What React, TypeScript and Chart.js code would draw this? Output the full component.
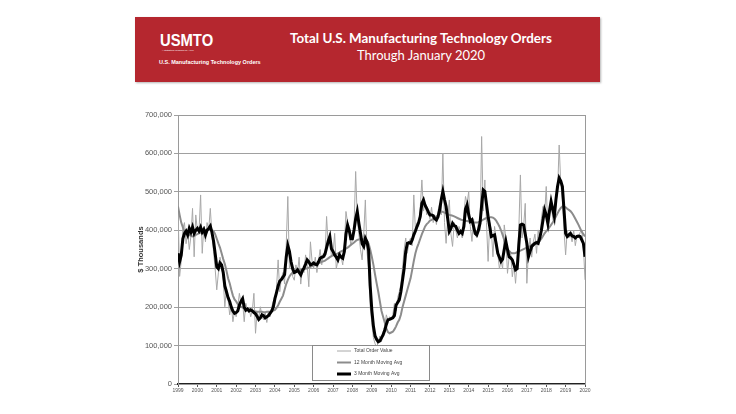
import React, { useEffect, useRef } from "react";
import { Chart, registerables } from "chart.js";

Chart.register(...registerables);

// Monthly series, Jan 1999 .. Jan 2020, values in $ thousands (axis units / 1000)
const START_YEAR = 1999;
const UNIT = 1000;

const yearLabels = [
  "1999", "2000", "2001", "2002", "2003", "2004", "2005", "2006", "2007", "2008", "2009",
  "2010", "2011", "2012", "2013", "2014", "2015", "2016", "2017", "2018", "2019", "2020",
];

const yTicks = [0, 100000, 200000, 300000, 400000, 500000, 600000, 700000];

const seriesNames = ["Total Order Value", "12 Month Moving Avg", "3 Month Moving Avg"];

const totalOrderValue = [
  460, 280, 320, 405, 420, 365, 395, 350, 385, 457, 331, 440,
  400, 395, 492, 340, 410, 370, 420, 400, 457, 390, 345, 300,
  245, 289, 330, 310, 270, 201, 250, 220, 180, 205, 162, 190,
  175, 200, 236, 210, 215, 162, 210, 190, 200, 175, 190, 236,
  132, 190, 170, 201, 175, 167, 185, 160, 190, 175, 200, 215,
  210, 250, 323, 240, 275, 290, 260, 360, 488, 300, 330, 280,
  270, 310, 290, 330, 260, 300, 290, 336, 310, 253, 370, 320,
  300, 330, 290, 320, 350, 310, 340, 330, 436, 360, 392, 330,
  340, 392, 300, 320, 345, 330, 310, 360, 449, 420, 400, 360,
  375, 410, 553, 430, 390, 350, 323, 390, 479, 345, 300, 200,
  160, 120, 105, 95, 110, 125, 110, 135, 150, 180, 165, 175,
  170, 180, 210, 190, 225, 240, 260, 300, 350, 380, 340, 370,
  380, 360, 492, 400, 420, 410, 460, 531, 450, 470, 440, 450,
  430, 460, 420, 440, 415, 450, 470, 440, 601, 420, 366, 430,
  479, 390, 358, 420, 400, 380, 410, 395, 380, 440, 488, 470,
  501, 410, 371, 430, 390, 380, 420, 400, 644, 450, 531, 420,
  319, 420, 401, 331, 410, 380, 340, 300, 320, 300, 414, 380,
  288, 330, 340, 279, 310, 262, 320, 400, 544, 380, 410, 470,
  262, 345, 380, 330, 370, 390, 340, 401, 370, 430, 462, 440,
  514, 400, 440, 480, 430, 420, 470, 500, 622, 520, 480, 400,
  336, 400, 380, 390, 370, 400, 360, 385, 380, 395, 401, 360,
  271,
];

const movingAvg12 = [
  462, 440, 420, 408, 395, 392, 390, 388, 385, 384, 385, 388,
  390, 392, 394, 396, 398, 400, 401, 402, 401, 400, 398, 390,
  378, 366, 355, 340, 325, 312, 295, 275, 262, 245, 230, 220,
  215, 208, 203, 201, 199, 197, 195, 194, 193, 192, 191, 190,
  189, 188, 188, 188, 188, 187, 187, 188, 188, 188, 189, 191,
  193, 198, 205, 214, 222, 230, 245, 260, 271, 280, 286, 290,
  292, 294, 295, 296, 297, 298, 299, 300, 301, 303, 305, 307,
  309, 310, 312, 314, 316, 318, 319, 321, 324, 327, 330, 333,
  335, 336, 338, 340, 342, 345, 347, 350, 352, 355, 358, 362,
  365, 368, 372, 375, 376, 377, 377, 376, 375, 372, 366, 350,
  331, 310, 285, 262, 240, 215, 190, 175, 160, 145, 135, 132,
  134, 136, 142, 150, 160, 167, 180, 200, 215, 230, 245, 260,
  275, 297, 320, 340, 355, 366, 378, 390, 400, 410, 416, 420,
  425, 427, 430, 432, 435, 440, 445, 449, 448, 446, 444, 442,
  440, 439, 438, 436, 434, 432, 430, 428, 427, 426, 425, 424,
  423, 422, 421, 420, 420, 420, 421, 423, 425, 428, 430, 432,
  433, 434, 434, 433, 430, 425, 418, 410, 400, 388, 375, 362,
  352, 346, 342, 340, 340, 341, 343, 345, 347, 349, 351, 353,
  355, 357, 359, 362, 365, 368, 370, 371, 373, 378, 385, 392,
  398, 402, 408, 414, 420, 428, 436, 444, 452, 458, 462, 462,
  460, 456, 453, 450, 445, 438, 430, 422, 414, 405, 396, 390,
  384,
];

const movingAvg3 = [
  340, 318, 335, 378, 392, 398, 388, 405, 395, 408, 392, 400,
  405, 398, 408, 395, 402, 388, 400, 405, 411, 395, 372, 340,
  305, 300, 315, 310, 290, 255, 240, 225, 215, 200, 190, 184,
  186, 190, 205, 215, 222, 200, 192, 195, 190, 193, 190, 186,
  183, 176, 168, 172, 180, 178, 172, 175, 178, 184, 190, 200,
  222, 238, 255, 268, 272, 278, 285, 330, 360, 345, 318, 300,
  290, 292, 297, 290, 284, 295, 302, 312, 323, 318, 310, 312,
  315, 312, 310, 318, 327, 330, 331, 338, 355, 372, 384, 352,
  345, 336, 330, 323, 336, 330, 327, 345, 390, 414, 400, 378,
  378, 401, 430, 449, 418, 392, 365, 358, 379, 370, 349, 255,
  193, 150, 125, 116, 110, 112, 120, 128, 140, 155, 167, 168,
  170, 172, 178, 205, 212, 219, 240, 270, 300, 345, 366, 368,
  366, 375, 388, 398, 410, 420, 436, 470, 479, 465, 457, 448,
  440, 440, 438, 430, 427, 435, 453, 480, 501, 480, 462, 430,
  397, 405, 418, 412, 410, 400, 392, 397, 392, 410, 455, 466,
  440, 423, 427, 410, 392, 388, 400, 418, 465, 505, 501, 468,
  436, 410, 384, 386, 388, 365, 340, 330, 319, 325, 350, 371,
  350, 331, 328, 323, 310, 297, 300, 360, 414, 416, 414, 390,
  366, 331, 345, 358, 362, 366, 368, 366, 380, 400, 427, 453,
  440, 418, 450, 475, 455, 436, 480, 514, 536, 528, 514, 453,
  392, 384, 388, 392, 385, 384, 380, 384, 385, 384, 375, 366,
  331,
];

const toPoints = (arr: number[]) =>
  arr.map((v, i) => ({ x: START_YEAR + i / 12, y: v * UNIT }));

const FONT = "'Liberation Sans', Arial, sans-serif";

const framePlugin = {
  id: "plotFrame",
  beforeDatasetsDraw(chart: any) {
    const { ctx, chartArea } = chart;
    ctx.save();
    ctx.strokeStyle = "#9a9a9a";
    ctx.lineWidth = 1;
    ctx.strokeRect(
      Math.round(chartArea.left) + 0.5,
      Math.round(chartArea.top) + 0.5,
      Math.round(chartArea.right - chartArea.left),
      Math.round(chartArea.bottom - chartArea.top)
    );
    ctx.restore();
  },
};

const insetLegendPlugin = {
  id: "insetLegend",
  afterDatasetsDraw(chart: any) {
    const { ctx, chartArea } = chart;
    const x = Math.round(chartArea.left + 134);
    const y = Math.round(chartArea.bottom - 39);
    const w = 117;
    const h = 35;
    ctx.save();
    ctx.fillStyle = "#ffffff";
    ctx.fillRect(x, y, w, h);
    ctx.strokeStyle = "#8a8a8a";
    ctx.lineWidth = 1;
    ctx.strokeRect(x + 0.5, y + 0.5, w, h);
    ctx.font = `5px ${FONT}`;
    ctx.textBaseline = "middle";
    ctx.fillStyle = "#444";
    seriesNames.forEach((name, i) => {
      const ds = chart.data.datasets.find((d: any) => d.label === name);
      const ly = y + 6 + i * 11.5;
      ctx.strokeStyle = ds.borderColor;
      ctx.lineWidth = ds.borderWidth;
      ctx.beginPath();
      ctx.moveTo(x + 25, ly);
      ctx.lineTo(x + 39, ly);
      ctx.stroke();
      ctx.fillText(name, x + 42, ly);
    });
    ctx.restore();
  },
};

function ChartCanvas() {
  const ref = useRef<HTMLCanvasElement | null>(null);
  useEffect(() => {
    if (!ref.current) return;
    const chart = new Chart(ref.current, {
      type: "line",
      data: {
        datasets: [
          {
            label: seriesNames[2],
            data: toPoints(movingAvg3),
            borderColor: "#000000",
            borderWidth: 3,
            pointRadius: 0,
            tension: 0,
            order: 1,
          },
          {
            label: seriesNames[1],
            data: toPoints(movingAvg12),
            borderColor: "#8c8c8c",
            borderWidth: 2,
            pointRadius: 0,
            tension: 0,
            order: 2,
          },
          {
            label: seriesNames[0],
            data: toPoints(totalOrderValue),
            borderColor: "#a8a8a8",
            borderWidth: 1,
            pointRadius: 0,
            tension: 0,
            order: 3,
          },
        ],
      },
      options: {
        animation: false,
        responsive: true,
        maintainAspectRatio: false,
        layout: { padding: { left: 0, right: 15, top: 15, bottom: 0 } },
        plugins: {
          legend: { display: false },
          tooltip: { enabled: false },
        },
        scales: {
          x: {
            type: "linear",
            min: START_YEAR,
            max: START_YEAR + yearLabels.length - 1,
            afterFit: (s: any) => {
              s.height = 16;
            },
            afterBuildTicks: (s: any) => {
              s.ticks = yearLabels.map((_, i) => ({ value: START_YEAR + i }));
            },
            ticks: {
              autoSkip: false,
              maxRotation: 0,
              padding: 1,
              color: "#555",
              font: { family: FONT, size: 5 },
              callback: (v: any) => yearLabels[Math.round(Number(v)) - START_YEAR],
            },
            grid: { drawOnChartArea: false, drawTicks: true, tickLength: 3, color: "#555" },
            border: { color: "#222", width: 2 },
          },
          y: {
            min: 0,
            max: yTicks[yTicks.length - 1],
            afterFit: (s: any) => {
              s.width = 58;
            },
            afterBuildTicks: (s: any) => {
              s.ticks = yTicks.map((v) => ({ value: v }));
            },
            ticks: {
              padding: 2,
              color: "#555",
              font: { family: FONT, size: 7.5 },
              callback: (v: any) => Number(v).toLocaleString("en-US"),
            },
            grid: { color: "#a0a0a0", lineWidth: 1, tickLength: 4 },
            border: { color: "#9a9a9a", width: 1 },
            title: {
              display: true,
              text: "$ Thousands",
              color: "#333",
              font: { family: FONT, size: 7.5, weight: "bold" },
              padding: { top: 16, bottom: 0 },
            },
          },
        },
      },
      plugins: [framePlugin, insetLegendPlugin],
    });
    return () => chart.destroy();
  }, []);
  return <canvas ref={ref} />;
}

export default function App() {
  return (
    <div
      style={{
        position: "absolute",
        left: 0,
        top: 0,
        width: 736,
        height: 414,
        background: "#ffffff",
        overflow: "hidden",
      }}
    >
      <div
        style={{
          position: "absolute",
          left: 135,
          top: 17,
          width: 465,
          height: 65,
          background: "#b5272f",
          boxShadow: "1px 1px 2px rgba(0,0,0,0.3)",
          color: "#ffffff",
        }}
      >
        <div
          style={{
            position: "absolute",
            left: 25,
            top: 15,
            fontFamily: FONT,
            fontWeight: "bold",
            fontSize: 17,
            lineHeight: 1,
            transform: "scaleX(0.87)",
            transformOrigin: "left top",
            whiteSpace: "nowrap",
          }}
        >
          USMTO
        </div>
        <div
          style={{
            position: "absolute",
            left: 27,
            top: 33,
            fontFamily: FONT,
            fontSize: 2.5,
            lineHeight: 1,
            whiteSpace: "nowrap",
          }}
        >
          A statistical program by AMT
        </div>
        <div
          style={{
            position: "absolute",
            left: 24,
            top: 43,
            fontFamily: FONT,
            fontWeight: "bold",
            fontSize: 5.5,
            lineHeight: 1,
            whiteSpace: "nowrap",
          }}
        >
          U.S. Manufacturing Technology Orders
        </div>
        <div
          style={{
            position: "absolute",
            left: 136,
            top: 12,
            width: 300,
            textAlign: "center",
            fontFamily: "Lato, sans-serif",
            fontWeight: "bold",
            fontSize: 13.4,
            lineHeight: "18px",
            whiteSpace: "nowrap",
          }}
        >
          Total U.S. Manufacturing Technology Orders
        </div>
        <div
          style={{
            position: "absolute",
            left: 136,
            top: 29,
            width: 300,
            textAlign: "center",
            fontFamily: "Lato, sans-serif",
            fontSize: 13,
            lineHeight: "18px",
            whiteSpace: "nowrap",
          }}
        >
          Through January 2020
        </div>
      </div>
      <div
        style={{
          position: "absolute",
          left: 120,
          top: 100,
          width: 480,
          height: 300,
        }}
      >
        <ChartCanvas />
      </div>
    </div>
  );
}
